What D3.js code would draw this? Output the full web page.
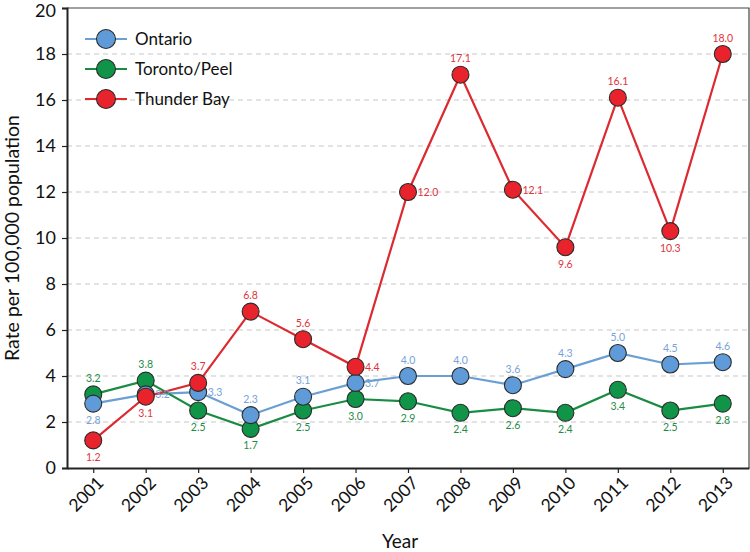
<!DOCTYPE html>
<html><head><meta charset="utf-8">
<script src="https://cdn.jsdelivr.net/npm/d3@7"></script>
<style>body{margin:0;background:#fff;} svg{display:block;}</style>
</head><body>
<svg id="chart" width="750" height="552"></svg>
<script>
const years = ["2001","2002","2003","2004","2005","2006","2007","2008","2009","2010","2011","2012","2013"];
const ontario = [2.8,3.2,3.3,2.3,3.1,3.7,4.0,4.0,3.6,4.3,5.0,4.5,4.6];
const torontoPeel = [3.2,3.8,2.5,1.7,2.5,3.0,2.9,2.4,2.6,2.4,3.4,2.5,2.8];
const thunderBay = [1.2,3.1,3.7,6.8,5.6,4.4,12.0,17.1,12.1,9.6,16.1,10.3,18.0];
const yTicks = [0,2,4,6,8,10,12,14,16,18,20];
// label placement per point: a=above, b=below, r=right
const ontarioLbl = ["b","r","r","a","a","r","a","a","a","a","a","a","a"];
const torontoLbl = ["a","a","b","b","b","b","b","b","b","b","b","b","b"];
const thunderLbl = ["b","b","a","a","a","r","r","a","r","b","a","b","a"];

const series = [
  {name:"Ontario", values:ontario, lbl:ontarioLbl, line:"#6a9fd3", fill:"#5f9bd8", text:"#76a3d8"},
  {name:"Toronto/Peel", values:torontoPeel, lbl:torontoLbl, line:"#1a8c41", fill:"#0f9448", text:"#1f8d46"},
  {name:"Thunder Bay", values:thunderBay, lbl:thunderLbl, line:"#dc2a30", fill:"#e8232b", text:"#e0343c"}
];

const font = "Lato, 'Open Sans', sans-serif";
const svg = d3.select("#chart");
const m = {left:67, right:749, top:8, bottom:468};
const x = d3.scalePoint().domain(years).range([m.left, m.right]).padding(0.5);
const y = d3.scaleLinear().domain([0,20]).range([m.bottom, m.top]);

// gridlines
svg.append("g").selectAll("line").data(yTicks.filter(t=>t>0&&t<20)).join("line")
  .attr("x1", m.left).attr("x2", m.right)
  .attr("y1", d=>y(d)).attr("y2", d=>y(d))
  .attr("stroke", "#c8c8c8").attr("stroke-width", 1.2).attr("stroke-dasharray", "5,4");

// frame top/right
svg.append("path").attr("d", `M${m.left},${m.top}H${m.right}V${m.bottom}`)
  .attr("fill","none").attr("stroke","#444").attr("stroke-width",1.2);

// axes
const yAxis = svg.append("g").attr("transform", `translate(${m.left},0)`)
  .call(d3.axisLeft(y).tickValues(yTicks).tickSize(5).tickPadding(6).tickFormat(d3.format("d")));
yAxis.select(".domain").attr("stroke","#222").attr("stroke-width",2);
yAxis.selectAll(".tick line").attr("stroke","#222").attr("stroke-width",1.2);
yAxis.selectAll("text").attr("font-family",font).attr("font-size",18).attr("fill","#111")
  .attr("dy", d => d === 20 ? "0.45em" : "0.32em");

const xAxis = svg.append("g").attr("transform", `translate(0,${m.bottom})`)
  .call(d3.axisBottom(x).tickSize(5).tickSizeOuter(0));
xAxis.select(".domain").attr("stroke","#222").attr("stroke-width",2);
xAxis.selectAll(".tick line").attr("stroke","#222").attr("stroke-width",1.2);
xAxis.selectAll("text").attr("font-family",font).attr("font-size",17.5).attr("fill","#111")
  .attr("text-anchor","end").attr("dy",0).attr("y",0)
  .attr("transform","translate(11,16) rotate(-45)");

// axis titles
svg.append("text").attr("x",400).attr("y",548).attr("text-anchor","middle")
  .attr("font-family",font).attr("font-size",19).attr("fill","#111").text("Year");
svg.append("text").attr("transform",`translate(19,${(m.top+m.bottom)/2}) rotate(-90)`)
  .attr("text-anchor","middle").attr("font-family",font).attr("font-size",19.5).attr("fill","#111")
  .text("Rate per 100,000 population");

const line = d3.line().x((d,i)=>x(years[i])).y(d=>y(d));
const r = 8.5;

// lines
series.forEach(s=>{
  svg.append("path").datum(s.values).attr("d",line).attr("fill","none")
    .attr("stroke",s.line).attr("stroke-width",2.2);
});
// markers: Toronto, Ontario, Thunder Bay order
[series[1], series[0], series[2]].forEach(s=>{
  svg.append("g").selectAll("circle").data(s.values).join("circle")
    .attr("cx",(d,i)=>x(years[i])).attr("cy",d=>y(d)).attr("r",r)
    .attr("fill",s.fill).attr("stroke","#2b2b2b").attr("stroke-width",1.1);
});
// labels
series.forEach(s=>{
  svg.append("g").selectAll("text").data(s.values).join("text")
    .attr("x",(d,i)=> s.lbl[i]==="r" ? x(years[i])+r+1 : x(years[i]))
    .attr("y",(d,i)=> s.lbl[i]==="a" ? y(d)-r-4 : s.lbl[i]==="b" ? y(d)+r+12 : y(d)+4)
    .attr("text-anchor",(d,i)=> s.lbl[i]==="r" ? "start" : "middle")
    .attr("font-family",font).attr("font-size",10.5).attr("fill",s.text)
    .text(d=>d.toFixed(1));
});

// legend
const lg = svg.append("g");
series.forEach((s,i)=>{
  const ly = 39 + i*30;
  lg.append("line").attr("x1",85).attr("x2",127).attr("y1",ly).attr("y2",ly)
    .attr("stroke",s.line).attr("stroke-width",2.2);
  lg.append("circle").attr("cx",106).attr("cy",ly).attr("r",9.5)
    .attr("fill",s.fill).attr("stroke","#2b2b2b").attr("stroke-width",1.1);
  lg.append("text").attr("x",135).attr("y",ly+6).attr("font-family",font).attr("font-size",17)
    .attr("fill","#111").text(s.name);
});
</script>
</body></html>
